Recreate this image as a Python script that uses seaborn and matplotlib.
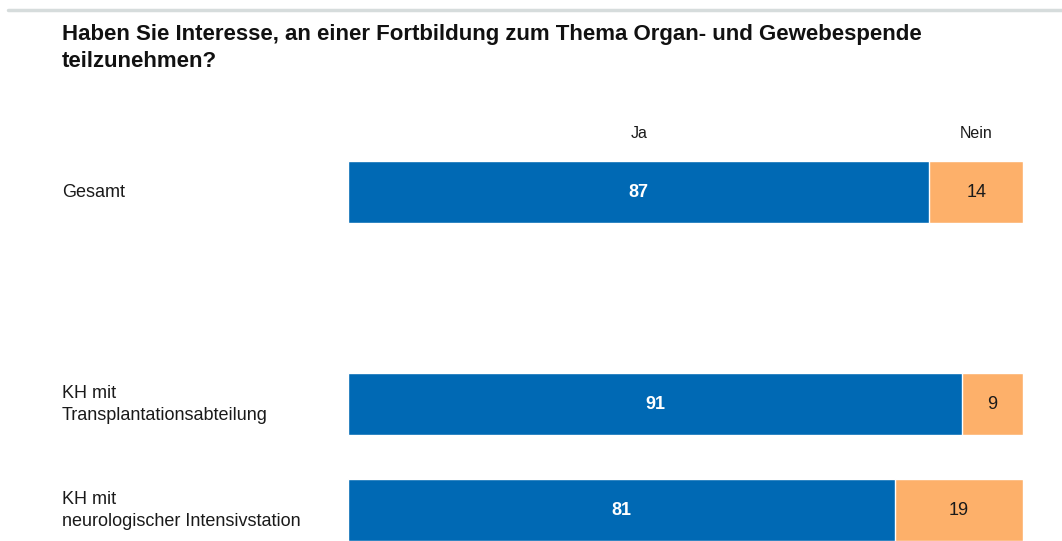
import matplotlib
matplotlib.use('Agg')
import matplotlib.pyplot as plt
import matplotlib.transforms as mtransforms
from matplotlib.lines import Line2D
import seaborn as sns
import pandas as pd

## data
groups = ['Gesamt', 'KH mit\nTransplantationsabteilung', 'KH mit\nneurologischer Intensivstation']
ja = [87, 91, 81]
nein = [14, 9, 19]
col_labels = ['Ja', 'Nein']

blue = '#0069b4'
orange = '#fdb06a'

sns.set_theme(style='white')
plt.rcParams['font.family'] = ['Liberation Sans', 'DejaVu Sans']

df = pd.DataFrame({'group': groups, 'ja': ja, 'nein': nein})
df['ja_share'] = df['ja'] / (df['ja'] + df['nein']) * 100
df['total'] = 100.0

# blank slot between Gesamt and the two sub groups
order = [groups[0], ' ', groups[1], groups[2]]

fig = plt.figure(figsize=(10.62, 5.41), dpi=100)
ax = fig.add_axes([348 / 1062, 0, 675 / 1062, 421 / 541])

sns.barplot(data=df, y='group', x='total', order=order, color=orange, saturation=1,
            width=0.585, edgecolor='white', linewidth=1, ax=ax)
sns.barplot(data=df, y='group', x='ja_share', order=order, color=blue, saturation=1,
            width=0.585, edgecolor='white', linewidth=1, ax=ax)

ax.set_xlim(0, 100)
ax.set_ylim(3.29, -0.68)
ax.set_xlabel('')
ax.set_ylabel('')
ax.set_xticks([])
ax.set_yticks([])
sns.despine(ax=ax, left=True, bottom=True)

# value labels inside the bars
for _, row in df.iterrows():
    y = order.index(row['group'])
    ax.text(row['ja_share'] / 2, y, str(row['ja']), color='white', fontsize=13,
            fontweight='bold', ha='center', va='center')
    ax.text(row['ja_share'] + (100 - row['ja_share']) / 2, y, str(row['nein']),
            color='#1a1a1a', fontsize=13, ha='center', va='center')

# column headers above the first bar
first = df.iloc[0]
ax.text(first['ja_share'] / 2, -0.55, col_labels[0], fontsize=11.5, color='#1a1a1a',
        ha='center', va='center')
ax.text(first['ja_share'] + (100 - first['ja_share']) / 2, -0.55, col_labels[1],
        fontsize=11.5, color='#1a1a1a', ha='center', va='center')

# row labels on the left
trans = mtransforms.blended_transform_factory(fig.transFigure, ax.transData)
for g in groups:
    ax.text(62 / 1062, order.index(g), g, transform=trans, fontsize=13,
            color='#1a1a1a', ha='left', va='center', linespacing=1.38)

fig.text(62 / 1062, 1 - 24 / 541,
         'Haben Sie Interesse, an einer Fortbildung zum Thema Organ- und Gewebespende\nteilzunehmen?',
         fontsize=16, fontweight='bold', color='#111111', ha='left', va='top',
         linespacing=1.35)

fig.add_artist(Line2D([8 / 1062, 1], [1 - 10 / 541, 1 - 10 / 541],
                      color='#d6dcdc', lw=2.5, transform=fig.transFigure))

fig.savefig('out.png', dpi=100)
